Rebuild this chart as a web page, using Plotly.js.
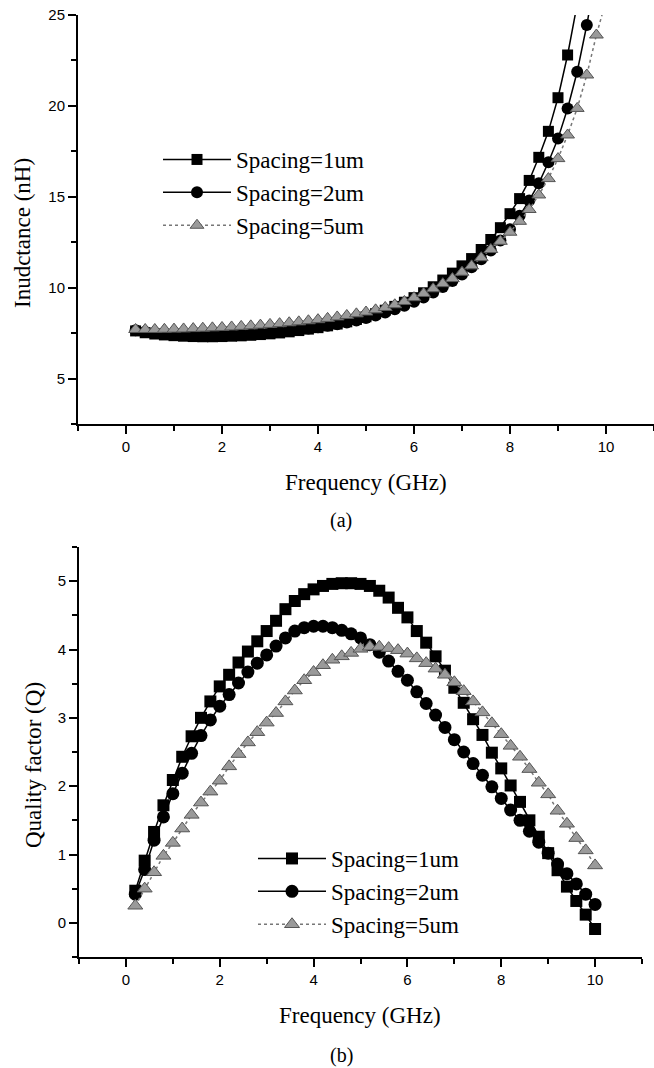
<!DOCTYPE html>
<html>
<head>
<meta charset="utf-8">
<script src="https://cdn.plot.ly/plotly-3.0.1.min.js"></script>
<style>html,body{margin:0;padding:0;background:#fff;}#chart{width:654px;height:1068px;}</style>
</head>
<body>
<div id="chart"></div>
<script>
// Frequency (GHz)
const freq = [0.2,0.4,0.6,0.8,1.0,1.2,1.4,1.6,1.8,2.0,2.2,2.4,2.6,2.8,3.0,3.2,3.4,3.6,3.8,4.0,
              4.2,4.4,4.6,4.8,5.0,5.2,5.4,5.6,5.8,6.0,6.2,6.4,6.6,6.8,7.0,7.2,7.4,7.6,7.8,8.0,
              8.2,8.4,8.6,8.8,9.0,9.2,9.4,9.6,9.8,10.0];
const seriesNames = ["Spacing=1um","Spacing=2um","Spacing=5um"];

// (a) Inductance (nH)
const ind1 = [7.62,7.52,7.45,7.40,7.36,7.33,7.31,7.30,7.30,7.31,7.33,7.35,7.38,7.42,7.46,7.51,7.57,7.64,7.72,7.80,
              7.90,8.00,8.12,8.25,8.40,8.57,8.76,8.97,9.20,9.45,9.72,10.05,10.42,10.80,11.20,11.60,12.10,12.65,13.30,14.07,
              14.90,15.90,17.17,18.60,20.45,22.80,25.60];
const ind2 = [7.66,7.58,7.52,7.48,7.45,7.43,7.41,7.40,7.40,7.41,7.42,7.44,7.47,7.50,7.54,7.58,7.63,7.69,7.75,7.82,
              7.90,7.99,8.09,8.20,8.33,8.47,8.63,8.81,9.00,9.22,9.46,9.73,10.03,10.36,10.72,11.12,11.56,12.05,12.60,13.22,
              13.95,14.80,15.74,16.90,18.20,19.86,21.88,24.45,27.40];
const ind3 = [7.70,7.70,7.70,7.71,7.72,7.73,7.75,7.77,7.79,7.81,7.84,7.87,7.90,7.94,7.98,8.02,8.07,8.12,8.18,8.24,
              8.31,8.39,8.47,8.56,8.66,8.78,8.91,9.06,9.24,9.45,9.68,9.94,10.22,10.50,10.85,11.20,11.65,12.10,12.55,13.05,
              13.65,14.30,15.10,16.00,17.10,18.40,19.86,21.70,23.90,25.80];

// (b) Quality factor (Q)
const q1 = [0.47,0.91,1.33,1.72,2.09,2.43,2.73,3.00,3.24,3.46,3.63,3.81,3.97,4.12,4.27,4.42,4.59,4.71,4.81,4.88,
            4.93,4.96,4.97,4.97,4.96,4.93,4.86,4.76,4.61,4.47,4.27,4.10,3.90,3.69,3.44,3.22,2.98,2.75,2.49,2.26,
            2.01,1.77,1.50,1.26,1.02,0.77,0.53,0.32,0.12,-0.09];
const q2 = [0.42,0.78,1.21,1.55,1.89,2.19,2.48,2.74,2.97,3.17,3.34,3.51,3.67,3.80,3.92,4.05,4.17,4.27,4.32,4.34,
            4.34,4.32,4.28,4.23,4.17,4.07,3.96,3.83,3.68,3.55,3.38,3.21,3.04,2.86,2.68,2.50,2.33,2.16,1.99,1.82,
            1.65,1.50,1.34,1.18,1.02,0.86,0.72,0.57,0.42,0.27];
const q3 = [0.25,0.50,0.74,0.98,1.17,1.38,1.58,1.76,1.92,2.08,2.29,2.47,2.64,2.79,2.93,3.07,3.24,3.40,3.55,3.67,
            3.77,3.85,3.90,3.95,4.01,4.04,4.04,4.02,3.99,3.94,3.87,3.80,3.72,3.63,3.52,3.39,3.24,3.08,2.92,2.76,
            2.59,2.43,2.25,2.05,1.88,1.64,1.45,1.24,1.06,0.84];

const serif = "Liberation Serif, Times New Roman, serif";
const sans = "Liberation Sans, Arial, sans-serif";

function styles(size) {
  return [
    {marker:{symbol:"square", size:size, color:"#000"}, line:{color:"#000", width:1.5}},
    {marker:{symbol:"circle", size:size+1, color:"#000"}, line:{color:"#000", width:1.5}},
    {marker:{symbol:"triangle-up", size:size+1, color:"#9a9a9a", line:{color:"#555", width:1}}, line:{color:"#777", width:1.5, dash:"dot"}}
  ];
}

const sa = styles(11), sb = styles(12);
const indData = [ind1, ind2, ind3], qData = [q1, q2, q3];
const traces = [];
indData.forEach((ys, i) => traces.push(Object.assign({
  x: freq.slice(0, ys.length), y: ys, name: seriesNames[i], type:"scatter", mode:"lines+markers",
  xaxis:"x", yaxis:"y", legend:"legend"}, sa[i])));
qData.forEach((ys, i) => traces.push(Object.assign({
  x: freq.slice(0, ys.length), y: ys, name: seriesNames[i], type:"scatter", mode:"lines+markers",
  xaxis:"x2", yaxis:"y2", legend:"legend2"}, sb[i])));

function axis(extra) {
  return Object.assign({
    showline:true, linecolor:"#000", linewidth:2, mirror:false, zeroline:false, showgrid:false,
    ticks:"outside", ticklen:8, tickwidth:2, tickcolor:"#000",
    tickfont:{family:sans, size:15, color:"#000"}, fixedrange:true
  }, extra);
}

const H = 1068, W = 654;
const layout = {
  width:W, height:H, margin:{l:0, r:0, t:0, b:0}, paper_bgcolor:"#fff", plot_bgcolor:"#fff",
  showlegend:true,
  xaxis: axis({domain:[78/W, 654/W], range:[-1, 11], tickvals:[0,2,4,6,8,10], anchor:"y",
    minor:{tickvals:[-1,1,3,5,7,9,11], ticks:"outside", ticklen:5, tickwidth:2, tickcolor:"#000"}}),
  yaxis: axis({domain:[(H-424)/H, (H-15)/H], range:[2.5, 25], tickvals:[5,10,15,20,25], anchor:"x",
    minor:{tickvals:[2.5,7.5,12.5,17.5,22.5], ticks:"outside", ticklen:5, tickwidth:2, tickcolor:"#000"}}),
  xaxis2: axis({domain:[79/W, 642/W], range:[-1, 11], tickvals:[0,2,4,6,8,10], anchor:"y2",
    minor:{tickvals:[-1,1,3,5,7,9,11], ticks:"outside", ticklen:5, tickwidth:2, tickcolor:"#000"}}),
  yaxis2: axis({domain:[(H-957)/H, (H-547)/H], range:[-0.5, 5.5], tickvals:[0,1,2,3,4,5], anchor:"x2",
    minor:{tickvals:[-0.5,0.5,1.5,2.5,3.5,4.5,5.5], ticks:"outside", ticklen:5, tickwidth:2, tickcolor:"#000"}}),
  legend: {x:158/W, y:(H-138)/H, xanchor:"left", yanchor:"top", bgcolor:"rgba(0,0,0,0)",
    font:{family:serif, size:23, color:"#000"}, itemwidth:68, tracegroupgap:0},
  legend2: {x:253/W, y:(H-837)/H, xanchor:"left", yanchor:"top", bgcolor:"rgba(0,0,0,0)",
    font:{family:serif, size:23, color:"#000"}, itemwidth:68, tracegroupgap:0},
  annotations: [
    {text:"Frequency (GHz)", x:366/W, y:(H-482)/H, xref:"paper", yref:"paper", showarrow:false,
     xanchor:"center", yanchor:"middle", font:{family:serif, size:23, color:"#000"}},
    {text:"(a)", x:341/W, y:(H-520)/H, xref:"paper", yref:"paper", showarrow:false,
     xanchor:"center", yanchor:"middle", font:{family:serif, size:20, color:"#000"}},
    {text:"Frequency (GHz)", x:360/W, y:(H-1015)/H, xref:"paper", yref:"paper", showarrow:false,
     xanchor:"center", yanchor:"middle", font:{family:serif, size:23, color:"#000"}},
    {text:"(b)", x:341/W, y:(H-1055)/H, xref:"paper", yref:"paper", showarrow:false,
     xanchor:"center", yanchor:"middle", font:{family:serif, size:20, color:"#000"}},
    {text:"Inudctance (nH)", x:22/W, y:(H-233)/H, xref:"paper", yref:"paper", showarrow:false, textangle:-90,
     xanchor:"center", yanchor:"middle", font:{family:serif, size:23, color:"#000"}},
    {text:"Quality factor (Q)", x:34/W, y:(H-765)/H, xref:"paper", yref:"paper", showarrow:false, textangle:-90,
     xanchor:"center", yanchor:"middle", font:{family:serif, size:23, color:"#000"}}
  ]
};

Plotly.newPlot("chart", traces, layout, {displayModeBar:false, staticPlot:true});
</script>
</body>
</html>
